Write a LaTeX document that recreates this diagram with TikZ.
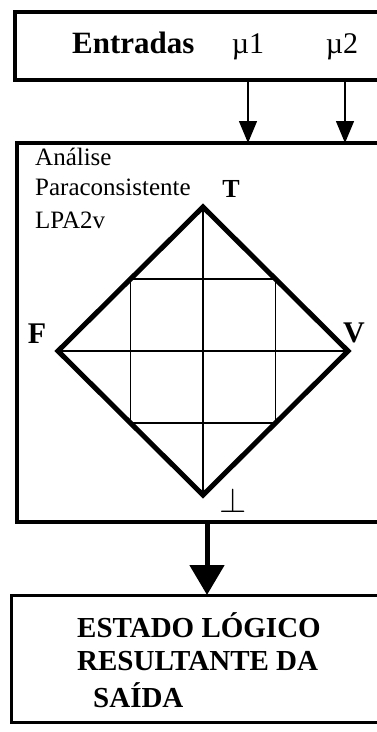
\documentclass[tikz,border=0pt]{standalone}
\usepackage{fontspec}
\setmainfont{Liberation Serif}
\usepackage{graphicx}
\usetikzlibrary{arrows.meta,calc}
\begin{document}
\begin{tikzpicture}[x=1pt,y=-1pt,
  boxnode/.style={draw, line width=#1, inner sep=0pt, outer sep=0pt, anchor=north west, minimum width=420pt},
  lbl/.style={inner sep=0pt, anchor=base},
  thinarrow/.style={line width=1.3pt, -{Triangle[width=18pt,length=22pt]}},
  thickarrow/.style={line width=5pt, -{Triangle[width=34pt,length=30pt]}},
  diam/.style={line width=5pt, line join=miter},
  grid/.style={line width=1.3pt}]
\useasboundingbox (0,0) rectangle (377,732);
\clip (0,0) rectangle (377,732);
\fill[white] (0,0) rectangle (377,732);
% boxes
\node[boxnode=3.5pt, minimum height=68pt] (inbox) at (15,12) {};
\node[boxnode=4.5pt, minimum height=379pt] (ana) at (17,143) {};
\node[boxnode=3pt, minimum height=127pt] (outbox) at (11,595) {};
% top texts
\node[lbl, anchor=base west, font=\bfseries\fontsize{31}{36}\selectfont] (ent) at (72,53) {Entradas};
\node[lbl, font=\fontsize{30}{36}\selectfont] (mu1) at (248,53) {µ1};
\node[lbl, font=\fontsize{30}{36}\selectfont] (mu2) at (342,53) {µ2};
\coordinate (c1) at (248,0);
\coordinate (c2) at (345,0);
\coordinate (c3) at (207,0);
\draw[thinarrow] (inbox.south -| c1) -- (ana.north -| c1);
\draw[thinarrow] (inbox.south -| c2) -- (ana.north -| c2);
% analysis label
\node[lbl, anchor=base west, font=\fontsize{25}{31}\selectfont] (an1) at (35,165) {Análise};
\node[lbl, anchor=base west, font=\fontsize{25}{31}\selectfont] (an2) at (35,195) {Paraconsistente};
\node[lbl, anchor=base west, font=\fontsize{25}{31}\selectfont] (an3) at (35,228) {LPA2v};
% diamond
\coordinate (T) at (203,207);
\coordinate (B) at (203,495);
\coordinate (L) at (58,351);
\coordinate (R) at (348,351);
\coordinate (q1) at ($(T)!0.5!(L)$);
\coordinate (q2) at ($(T)!0.5!(R)$);
\coordinate (q3) at ($(B)!0.5!(R)$);
\coordinate (q4) at ($(B)!0.5!(L)$);
\draw[grid] (T) -- (B) (L) -- (R);
\draw[grid] (q1) -- (q2) -- (q3) -- (q4) -- cycle;
\draw[diam] (T) -- (R) -- (B) -- (L) -- cycle;
\node[lbl, font=\bfseries\fontsize{26}{30}\selectfont] (tl) at (231,197) {T};
\node[lbl, font=\bfseries\fontsize{30}{34}\selectfont] (fl) at (37,343) {F};
\node[lbl, font=\bfseries\fontsize{30}{34}\selectfont] (vl) at (354,342) {V};
\node[inner sep=0pt] (bl) at (233,500) {\scalebox{3.5}{$\bot$}};
% output arrow
\draw[thickarrow] (ana.south -| c3) -- (outbox.north -| c3);
% output text
\node[lbl, anchor=base west, font=\bfseries\fontsize{29}{34}\selectfont] (o1) at (77,637) {ESTADO LÓGICO};
\node[lbl, anchor=base west, font=\bfseries\fontsize{29}{34}\selectfont] (o2) at (77,670) {RESULTANTE DA};
\node[lbl, anchor=base west, font=\bfseries\fontsize{29}{34}\selectfont] (o3) at (93,707) {SAÍDA};
\end{tikzpicture}
\end{document}
